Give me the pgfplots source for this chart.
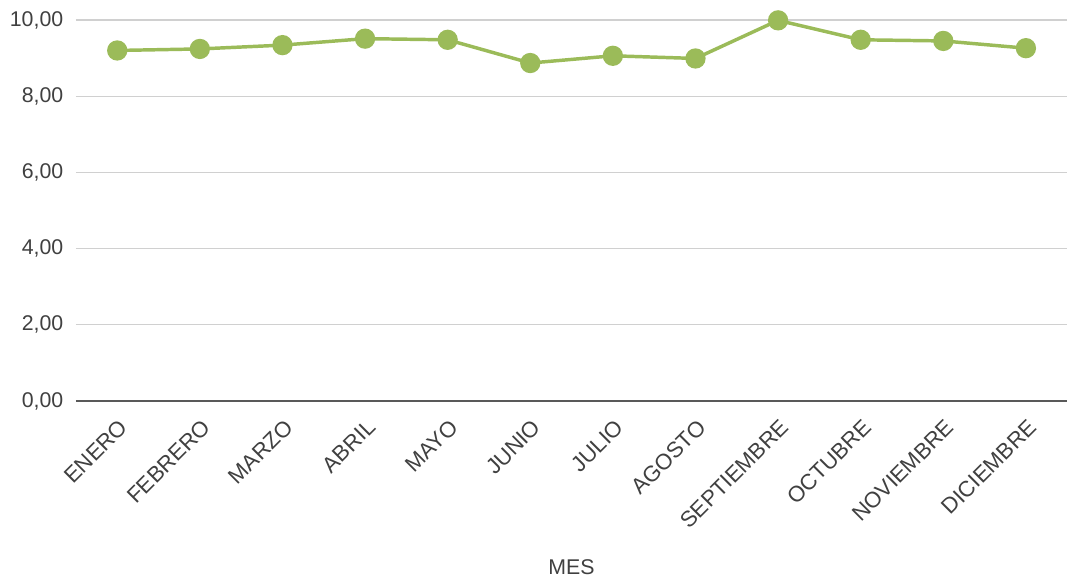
\documentclass[border=0pt]{standalone}
\usepackage{fontspec}
\setmainfont{Liberation Sans}
\usepackage{pgfplots}
\pgfplotsset{compat=1.18}
\definecolor{linegreen}{HTML}{9BBB59}
\definecolor{gridgray}{HTML}{D0D0D0}
\definecolor{axisgray}{HTML}{595959}
\definecolor{textgray}{HTML}{404040}

\begin{document}
\begin{tikzpicture}
\begin{axis}[
    scale only axis,
    width=744pt, height=286pt,
    xmin=-0.5, xmax=11.5,
    ymin=0, ymax=10,
    ytick={0,2,4,6,8,10},
    xtick={0,1,2,3,4,5,6,7,8,9,10,11},
    xticklabels={ENERO,FEBRERO,MARZO,ABRIL,MAYO,JUNIO,JULIO,AGOSTO,SEPTIEMBRE,OCTUBRE,NOVIEMBRE,DICIEMBRE},
    axis x line*=bottom,
    axis y line*=left,
    x axis line style={draw=axisgray, line width=1.2pt, -},
    y axis line style={draw=none},
    major tick length=0pt,
    ymajorgrids,
    grid style={draw=gridgray, line width=1pt},
    yticklabels={{0,00},{2,00},{4,00},{6,00},{8,00},{10,00}},
    yticklabel style={font=\fontsize{16}{19}\selectfont, text=textgray, anchor=east, xshift=-6pt},
    xticklabel style={font=\fontsize{16.6}{19}\selectfont, text=textgray, rotate=45, anchor=north east, xshift=-5pt, yshift=-6pt},
    xlabel={MES},
    xlabel style={font=\fontsize{16}{19}\selectfont, text=textgray, at={(axis description cs:0.5,0)}, anchor=center, yshift=-125pt},
    clip=false,
]
\addplot[color=linegreen, line width=2.6pt, mark=*, mark size=6.3pt, mark options={fill=linegreen, draw=linegreen}]
coordinates {
(0,9.20) (1,9.24) (2,9.34) (3,9.51) (4,9.48) (5,8.87)
(6,9.06) (7,8.99) (8,9.99) (9,9.48) (10,9.45) (11,9.26)
};
\end{axis}
\path ([shift={(-57pt,15pt)}]current axis.north west) rectangle ([shift={(0pt,-137pt)}]current axis.south east);
\end{tikzpicture}
\end{document}
